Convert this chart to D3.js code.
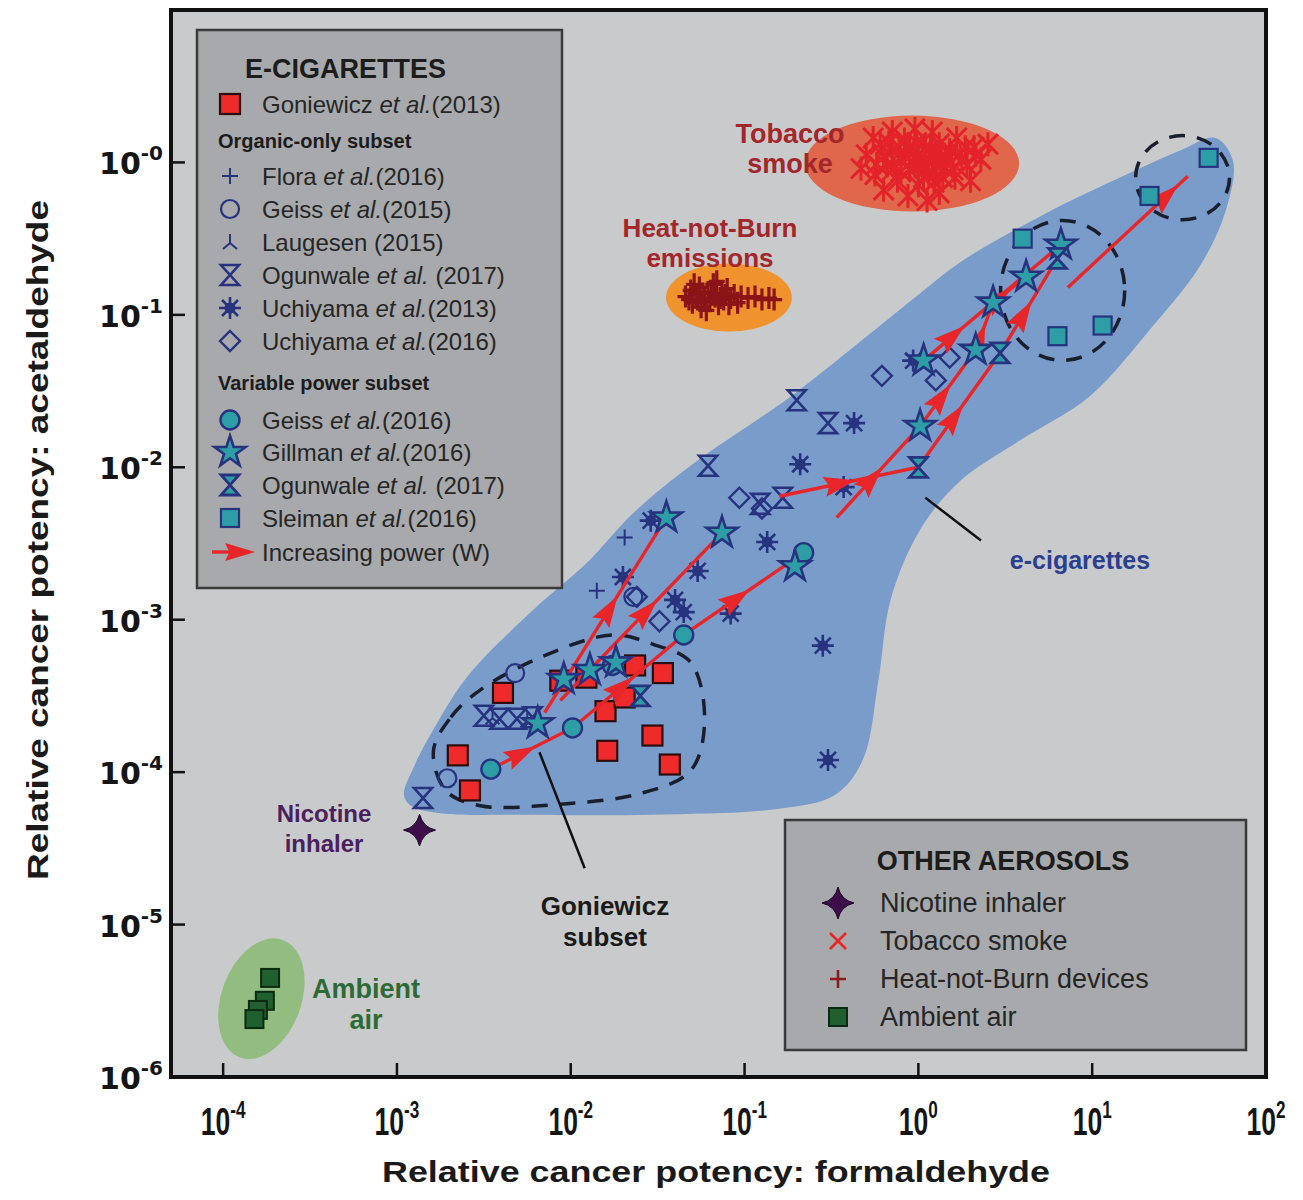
<!DOCTYPE html>
<html>
<head>
<meta charset="utf-8">
<script src="https://cdn.jsdelivr.net/npm/d3@7"></script>
<style>
  body { margin: 0; background: #fff; }
  text { font-family: "Liberation Sans", Arial, sans-serif; }
</style>
</head>
<body>
<div id="chart"></div>
<script>
// All values are log10 pairs: [formaldehyde potency, acetaldehyde potency]
const goniewicz = [[-2.65,-3.89],[-2.58,-4.12],[-2.39,-3.48],[-2.06,-3.40],[-1.91,-3.38],[-1.80,-3.60],
  [-1.69,-3.51],[-1.63,-3.30],[-1.47,-3.35],[-1.79,-3.86],[-1.53,-3.76],[-1.43,-3.95]];
const flora = [[-1.69,-2.46],[-1.85,-2.81]];
const geiss2015 = [[-2.32,-3.35],[-2.71,-4.04],[-1.64,-2.85]];
const laugesen = [[-2.45,-3.64],[-2.25,-3.66]];
const ogunwaleOrganic = [[-2.85,-4.17],[-2.50,-3.63],[-2.41,-3.65],[-2.31,-3.65],[-2.22,-3.64],
  [-1.21,-1.99],[-0.70,-1.56],[-0.52,-1.71],[-0.91,-2.24],[-0.78,-2.20]];
const uchiyama2013 = [[-1.70,-2.72],[-1.27,-2.68],[-1.08,-2.96],[-0.87,-2.49],[-0.68,-1.98],[-0.37,-1.71],
  [-0.43,-2.13],[-0.55,-3.17],[-0.52,-3.92],[-1.40,-2.87],[-1.35,-2.95],[-1.54,-2.35],[-0.03,-1.30]];
const uchiyama2016 = [[-1.62,-2.85],[-1.49,-3.01],[-1.03,-2.20],[-0.90,-2.27],[-0.21,-1.40],[0.10,-1.43],[0.18,-1.28]];
const geiss2016 = [[-2.46,-3.98],[-1.99,-3.71],[-1.35,-3.10],[-0.66,-2.56],[-1.76,-3.30]];
const gillman = [[-2.19,-3.68],[-2.04,-3.39],[-1.89,-3.33],[-1.74,-3.28],[-1.45,-2.33],[-1.13,-2.43],
  [-0.71,-2.65],[0.01,-1.73],[0.03,-1.30],[0.33,-1.23],[0.43,-0.92],[0.62,-0.75],[0.82,-0.54]];
const ogunwaleVariable = [[-1.60,-3.50],[0.00,-2.00],[0.47,-1.25],[0.80,-0.63]];
const sleiman = [[1.67,0.03],[1.33,-0.22],[0.60,-0.50],[0.80,-1.14],[1.06,-1.07]];
const nicotineInhaler = [[-2.87,-4.38]];
const ambientAir = [[-3.73,-5.35],[-3.76,-5.50],[-3.80,-5.56],[-3.82,-5.62]];
const tobaccoSmoke = [[-0.30,0.05],[-0.25,-0.08],[-0.22,0.12],[-0.18,-0.02],[-0.15,0.08],[-0.12,-0.12],
  [-0.10,0.02],[-0.08,0.15],[-0.05,-0.05],[-0.03,0.06],[0.00,-0.15],[0.02,0.00],[0.04,0.10],[0.06,-0.08],
  [0.08,0.04],[0.10,-0.02],[0.12,0.12],[0.14,-0.10],[0.16,0.02],[0.18,0.08],[0.20,-0.05],[0.24,0.06],
  [0.28,-0.02],[0.32,0.10],[0.36,0.02],[0.40,0.12],[-0.20,-0.18],[-0.06,-0.22],[0.05,-0.25],[0.12,-0.20],
  [-0.15,0.20],[-0.02,0.22],[0.08,0.20],[0.22,0.16],[-0.26,0.16],[0.30,-0.12],[-0.33,-0.04],[0.00,0.04],
  [-0.10,-0.06],[0.10,0.06],[0.15,-0.04],[-0.05,0.10],[-0.20,0.04],[-0.14,-0.04],[-0.08,0.06],[-0.02,-0.02],
  [0.04,-0.04],[0.07,0.09],[0.13,0.04],[0.19,0.00],[0.25,0.02],[-0.17,0.13],[-0.01,0.13],[0.03,-0.10],
  [0.09,-0.13],[-0.11,0.10],[0.21,-0.10],[0.27,0.10],[-0.24,-0.01],[0.33,0.05]];
const heatNotBurn = [[-1.34,-0.88],[-1.31,-0.84],[-1.30,-0.92],[-1.28,-0.87],[-1.26,-0.82],[-1.25,-0.95],
  [-1.23,-0.89],[-1.21,-0.85],[-1.20,-0.91],[-1.18,-0.80],[-1.17,-0.88],[-1.15,-0.93],[-1.13,-0.86],
  [-1.12,-0.90],[-1.10,-0.83],[-1.08,-0.89],[-1.06,-0.87],[-1.04,-0.92],[-1.02,-0.88],[-0.98,-0.89],
  [-0.94,-0.88],[-0.90,-0.90],[-0.86,-0.89],[-0.83,-0.90],[-1.22,-0.97],[-1.16,-0.78],[-1.27,-0.90],[-1.19,-0.86],
  [-1.29,-0.80],[-1.24,-0.86],[-1.14,-0.89],[-1.09,-0.93],[-1.32,-0.90],[-1.11,-0.87]];

// increasing power paths
const powerArrows = [
  [[-2.46,-3.98],[-1.99,-3.71],[-1.35,-3.10],[-0.66,-2.56]],
  [[-2.15,-3.61],[-1.45,-2.33]],
  [[-2.06,-3.53],[-1.13,-2.43]],
  [[-0.47,-2.33],[0.01,-1.73],[0.33,-1.23],[0.43,-0.92],[0.62,-0.75]],
  [[0.03,-1.30],[0.82,-0.54]],
  [[-0.80,-2.19],[0.00,-2.00],[0.47,-1.25],[0.80,-0.63]],
  [[0.86,-0.82],[1.55,-0.09]]
];
const arrowTipFrac = [0.55, 0.6, 0.6, 0.55, 0.3, 0.55, 0.92];

// region outlines (log10 pairs)
const ecigRegion = [[-2.96,-4.15],[-2.90,-3.96],[-2.81,-3.76],[-2.60,-3.38],[-2.22,-2.94],[-1.91,-2.63],
  [-1.64,-2.30],[-1.30,-1.98],[-0.74,-1.54],[-0.35,-1.19],[0.03,-0.84],[0.26,-0.64],[0.74,-0.33],
  [1.12,-0.12],[1.51,0.08],[1.71,0.16],[1.81,0.01],[1.77,-0.31],[1.62,-0.68],[1.33,-1.10],[0.99,-1.53],
  [0.59,-1.82],[0.24,-2.09],[0.01,-2.41],[-0.16,-2.87],[-0.23,-3.40],[-0.32,-3.92],[-0.48,-4.15],
  [-0.80,-4.24],[-1.54,-4.28],[-2.29,-4.28],[-2.75,-4.27],[-2.92,-4.22]];
const goniewiczSubset = [[-2.79,-3.86],[-2.69,-3.64],[-2.52,-3.46],[-2.16,-3.24],[-1.76,-3.10],[-1.53,-3.16],
  [-1.31,-3.28],[-1.23,-3.66],[-1.31,-3.99],[-1.60,-4.14],[-2.06,-4.21],[-2.52,-4.22],[-2.72,-4.12]];
const tobaccoCloud = { c: [-0.036, -0.007], r: [0.616, 0.315], rot: 0 };
const hnbCloud = { c: [-1.09, -0.886], r: [0.362, 0.223], rot: 0 };
const ambientCloud = { c: [-3.78, -5.486], r: [0.23, 0.41], rot: 20 };
const powerCircles = [{ c: [0.83, -0.84], r: [0.357, 0.459], rot: 0 }, { c: [1.52, -0.10], r: [0.27, 0.276], rot: 0 }];
const ecigLeader = [[0.36,-2.48],[0.04,-2.20]];
const subsetLeader = [[-1.92,-4.63],[-2.18,-3.87]];

const xTicks = [-4, -3, -2, -1, 0, 1, 2];
const yTicks = [0, -1, -2, -3, -4, -5, -6];

const W = 1303, H = 1200;
const svg = d3.select("#chart").append("svg").attr("width", W).attr("height", H);
const x = d3.scaleLog().domain([10 ** -4.3, 1e2]).range([171, 1266]);
const y = d3.scaleLog().domain([1e-6, 1e1]).range([1077, 10]);
const px = d => x(10 ** d[0]);
const py = d => y(10 ** d[1]);

const navy = "#27337f", teal = "#2e9ea6", red = "#e8262a";

// plot background
svg.append("rect").attr("x", 171).attr("y", 10).attr("width", 1095).attr("height", 1067)
  .attr("fill", "#c9cacc");
svg.append("clipPath").attr("id", "clip").append("rect")
  .attr("x", 171).attr("y", 10).attr("width", 1095).attr("height", 1067);
const plot = svg.append("g").attr("clip-path", "url(#clip)");

function cloud(c, fill, dashed) {
  const cx = px(c.c), cy = py(c.c);
  const rx = x(10 ** (c.c[0] + c.r[0])) - cx;
  const ry = cy - y(10 ** (c.c[1] + c.r[1]));
  const e = plot.append("ellipse").attr("cx", cx).attr("cy", cy).attr("rx", rx).attr("ry", ry)
    .attr("transform", `rotate(${c.rot},${cx},${cy})`);
  if (dashed) e.attr("fill", "none").attr("stroke", "#1a1f2e").attr("stroke-width", 3.5).attr("stroke-dasharray", "16,12");
  else e.attr("fill", fill);
}

cloud(tobaccoCloud, "#e0674c");
cloud(hnbCloud, "#f0922e");
cloud(ambientCloud, "#93bd80");

const closed = d3.line().x(px).y(py).curve(d3.curveCatmullRomClosed.alpha(0.5));
plot.append("path").attr("d", closed(ecigRegion)).attr("fill", "#7a9ccb");
plot.append("path").attr("d", closed(goniewiczSubset)).attr("fill", "none")
  .attr("stroke", "#1a1f2e").attr("stroke-width", 3.5).attr("stroke-dasharray", "16,12");
powerCircles.forEach(c => cloud(c, null, true));

[ecigLeader, subsetLeader].forEach(l => plot.append("line")
  .attr("x1", px(l[0])).attr("y1", py(l[0])).attr("x2", px(l[1])).attr("y2", py(l[1]))
  .attr("stroke", "#111").attr("stroke-width", 2.5));

function marker(g, type) {
  switch (type) {
    case "gon":
      g.append("rect").attr("x", -10).attr("y", -10).attr("width", 20).attr("height", 20)
        .attr("fill", "#ee2a2b").attr("stroke", "#2b0d0d").attr("stroke-width", 2.2); break;
    case "flora":
      g.append("path").attr("d", "M-8,0H8M0,-8V8").attr("stroke", navy).attr("stroke-width", 2); break;
    case "geiss15":
      g.append("circle").attr("r", 9).attr("fill", "none").attr("stroke", navy).attr("stroke-width", 2.2); break;
    case "laug":
      g.append("path").attr("d", "M0,-8V1M0,1L-7,7M0,1L7,7").attr("stroke", navy).attr("stroke-width", 2).attr("fill", "none"); break;
    case "ogOpen":
      g.append("path").attr("d", "M-9,-10H9L-9,10H9Z").attr("fill", "none").attr("stroke", navy).attr("stroke-width", 2.6); break;
    case "uch13":
      g.append("path").attr("d", "M-11,0H11M0,-11V11M-8,-8L8,8M-8,8L8,-8")
        .attr("stroke", navy).attr("stroke-width", 2.6);
      g.append("circle").attr("r", 5.5).attr("fill", navy); break;
    case "uch16":
      g.append("path").attr("d", "M0,-10L10,0L0,10L-10,0Z").attr("fill", "none").attr("stroke", navy).attr("stroke-width", 2.4); break;
    case "geiss16":
      g.append("circle").attr("r", 9.5).attr("fill", teal).attr("stroke", navy).attr("stroke-width", 2.4); break;
    case "gill":
      g.append("path").attr("d", d3.symbol().type(d3.symbolStar).size(300)())
        .attr("fill", teal).attr("stroke", navy).attr("stroke-width", 2.6); break;
    case "ogFill":
      g.append("path").attr("d", "M-9,-10H9L-9,10H9Z").attr("fill", teal).attr("stroke", navy).attr("stroke-width", 2.8); break;
    case "sle":
      g.append("rect").attr("x", -9).attr("y", -9).attr("width", 18).attr("height", 18)
        .attr("fill", teal).attr("stroke", navy).attr("stroke-width", 2.2); break;
    case "nic":
      g.append("path").attr("d", "M0,-16Q3,-3 16,0Q3,3 0,16Q-3,3 -16,0Q-3,-3 0,-16Z")
        .attr("fill", "#3e0e4a").attr("stroke", "#1a0520").attr("stroke-width", 1); break;
    case "tob":
      g.append("path").attr("d", "M-8,-8L8,8M-8,8L8,-8").attr("stroke", red).attr("stroke-width", 2.6); break;
    case "tobCloud":
      g.append("path").attr("d", "M-10,-10L10,10M-10,10L10,-10M0,-12V12").attr("stroke", "#e3222a").attr("stroke-width", 3); break;
    case "hnb":
      g.append("path").attr("d", "M-8,0H8M0,-9V9").attr("stroke", "#8e1b1b").attr("stroke-width", 2.6); break;
    case "hnbCloud":
      g.append("path").attr("d", "M-8,0H8M0,-11V11").attr("stroke", "#8a1418").attr("stroke-width", 3.2); break;
    case "amb":
      g.append("rect").attr("x", -9).attr("y", -9).attr("width", 18).attr("height", 18)
        .attr("fill", "#20602e").attr("stroke", "#0c2a12").attr("stroke-width", 2); break;
  }
}

function series(data, type) {
  plot.append("g").selectAll("g").data(data).join("g")
    .attr("transform", d => `translate(${px(d)},${py(d)})`)
    .each(function () { marker(d3.select(this), type); });
}

series(tobaccoSmoke, "tobCloud");
series(heatNotBurn, "hnbCloud");
series(ambientAir, "amb");
series(goniewicz, "gon");
series(flora, "flora");
series(geiss2015, "geiss15");
series(laugesen, "laug");
series(ogunwaleOrganic, "ogOpen");
series(uchiyama2013, "uch13");
series(uchiyama2016, "uch16");

// arrows
function arrowHead(g, x0, y0, x1, y1, len, half) {
  const a = Math.atan2(y1 - y0, x1 - x0);
  g.append("path")
    .attr("d", `M0,0L${-len},${-half}L${-len * 0.85},0L${-len},${half}Z`)
    .attr("transform", `translate(${x1},${y1}) rotate(${a * 180 / Math.PI})`)
    .attr("fill", red);
}
const arrowG = plot.append("g");
powerArrows.forEach((pts, i) => {
  arrowG.append("path").attr("d", d3.line().x(px).y(py)(pts))
    .attr("fill", "none").attr("stroke", red).attr("stroke-width", 3.4);
  d3.pairs(pts).forEach(([a, b]) => {
    const f = arrowTipFrac[i];
    const ax = px(a), ay = py(a), bx = px(b), by = py(b);
    arrowHead(arrowG, ax, ay, ax + (bx - ax) * f, ay + (by - ay) * f, 32, 10);
  });
});

series(geiss2016, "geiss16");
series(gillman, "gill");
series(ogunwaleVariable, "ogFill");
series(sleiman, "sle");
series(nicotineInhaler, "nic");

// frame and ticks
svg.append("rect").attr("x", 171).attr("y", 10).attr("width", 1095).attr("height", 1067)
  .attr("fill", "none").attr("stroke", "#111").attr("stroke-width", 4);
xTicks.forEach(e => {
  const tx = x(10 ** e);
  if (e < 2) svg.append("line").attr("x1", tx).attr("x2", tx).attr("y1", 1077).attr("y2", 1063)
    .attr("stroke", "#111").attr("stroke-width", 2.5);
  const t = svg.append("text").attr("transform", `translate(${tx},1135) scale(0.78,1.12)`)
    .attr("text-anchor", "middle").attr("font-weight", "bold").attr("fill", "#151515");
  t.append("tspan").attr("font-size", 34).text("10");
  t.append("tspan").attr("font-size", 22).attr("dy", -15).text(e === 0 ? "0" : e);
});
yTicks.forEach(e => {
  const ty = y(10 ** e);
  if (e > -6) svg.append("line").attr("x1", 171).attr("x2", 185).attr("y1", ty).attr("y2", ty)
    .attr("stroke", "#111").attr("stroke-width", 2.5);
  const t = svg.append("text").attr("x", 163).attr("y", ty + 12).attr("text-anchor", "end")
    .attr("font-weight", "bold").attr("fill", "#151515").style("font-family", "'DejaVu Sans', sans-serif");
  t.append("tspan").attr("font-size", 30).text("10");
  t.append("tspan").attr("font-size", 20).attr("dy", -14).text("-" + Math.abs(e));
});
svg.append("text").attr("x", 716).attr("y", 1182).attr("text-anchor", "middle")
  .attr("font-size", 29).attr("font-weight", "bold").attr("fill", "#1a1a1a")
  .attr("textLength", 668).attr("lengthAdjust", "spacingAndGlyphs")
  .text("Relative cancer potency: formaldehyde");
svg.append("text").attr("transform", "translate(48,540) rotate(-90)").attr("text-anchor", "middle")
  .attr("font-size", 29).attr("font-weight", "bold").attr("fill", "#1a1a1a")
  .attr("textLength", 680).attr("lengthAdjust", "spacingAndGlyphs")
  .text("Relative cancer potency: acetaldehyde");

// annotations
function label(lines, cx, y0, dy, size, color) {
  lines.forEach((s, i) => svg.append("text").attr("x", cx).attr("y", y0 + i * dy)
    .attr("text-anchor", "middle").attr("font-size", size).attr("font-weight", "bold")
    .attr("fill", color).text(s));
}
label(["Tobacco", "smoke"], 790, 143, 30, 27, "#a3262b");
label(["Heat-not-Burn", "emissions"], 710, 237, 30, 26, "#a3262b");
label(["Nicotine", "inhaler"], 324, 822, 30, 24, "#4a1f5c");
label(["Ambient", "air"], 366, 998, 31, 27, "#2e6b34");
label(["e-cigarettes"], 1080, 569, 0, 25, "#2b3f8f");
label(["Goniewicz", "subset"], 605, 915, 31, 26, "#1a1a1a");

// legends
function legendRow(g, type, yy, mx, tx, parts, size) {
  marker(g.append("g").attr("transform", `translate(${mx},${yy})`), type);
  const t = g.append("text").attr("x", tx).attr("y", yy).attr("dominant-baseline", "central")
    .attr("font-size", size).attr("fill", "#262626");
  parts.forEach((p, i) => t.append("tspan").attr("font-style", i === 1 ? "italic" : null).text(p));
}
const leg1 = svg.append("g");
leg1.append("rect").attr("x", 197).attr("y", 30).attr("width", 365).attr("height", 558)
  .attr("fill", "#a7a9ac").attr("stroke", "#3a3a3a").attr("stroke-width", 2.5);
leg1.append("text").attr("x", 245).attr("y", 78).attr("font-size", 27).attr("font-weight", "bold")
  .attr("fill", "#1c1c1c").text("E-CIGARETTES");
const ecigLegend = [
  ["gon", ["Goniewicz ", "et al.", "(2013)"]],
  [null, "Organic-only subset"],
  ["flora", ["Flora ", "et al.", "(2016)"]],
  ["geiss15", ["Geiss ", "et al.", "(2015)"]],
  ["laug", ["Laugesen (2015)"]],
  ["ogOpen", ["Ogunwale ", "et al.", " (2017)"]],
  ["uch13", ["Uchiyama ", "et al.", "(2013)"]],
  ["uch16", ["Uchiyama ", "et al.", "(2016)"]],
  [null, "Variable power subset"],
  ["geiss16", ["Geiss ", "et al.", "(2016)"]],
  ["gill", ["Gillman ", "et al.", "(2016)"]],
  ["ogFill", ["Ogunwale ", "et al.", " (2017)"]],
  ["sle", ["Sleiman ", "et al.", "(2016)"]],
  ["arrow", ["Increasing power (W)"]]
];
const legRowY = [104, 141, 176, 209, 242, 275, 308, 341, 383, 420, 452, 485, 518, 552];
ecigLegend.forEach(([type, parts], i) => {
  const yy = legRowY[i];
  if (type === null) {
    leg1.append("text").attr("x", 218).attr("y", yy).attr("dominant-baseline", "central")
      .attr("font-size", 20).attr("font-weight", "bold").attr("fill", "#1c1c1c").text(parts);
  } else if (type === "arrow") {
    leg1.append("line").attr("x1", 212).attr("x2", 240).attr("y1", yy).attr("y2", yy)
      .attr("stroke", red).attr("stroke-width", 3.4);
    arrowHead(leg1, 212, yy, 255, yy, 30, 9);
    legendRow(leg1, "none", yy, 230, 262, parts, 24);
  } else {
    legendRow(leg1, type, yy, 230, 262, parts, 24);
  }
});

const leg2 = svg.append("g");
leg2.append("rect").attr("x", 785).attr("y", 820).attr("width", 461).attr("height", 230)
  .attr("fill", "#a7a9ac").attr("stroke", "#3a3a3a").attr("stroke-width", 2.5);
leg2.append("text").attr("x", 1003).attr("y", 870).attr("text-anchor", "middle").attr("font-size", 27)
  .attr("font-weight", "bold").attr("fill", "#1c1c1c").text("OTHER AEROSOLS");
const otherLegend = [
  ["nic", "Nicotine inhaler"],
  ["tob", "Tobacco smoke"],
  ["hnb", "Heat-not-Burn devices"],
  ["amb", "Ambient air"]
];
otherLegend.forEach(([type, name], i) => legendRow(leg2, type, 903 + i * 38, 838, 880, [name], 27));
</script>
</body>
</html>
